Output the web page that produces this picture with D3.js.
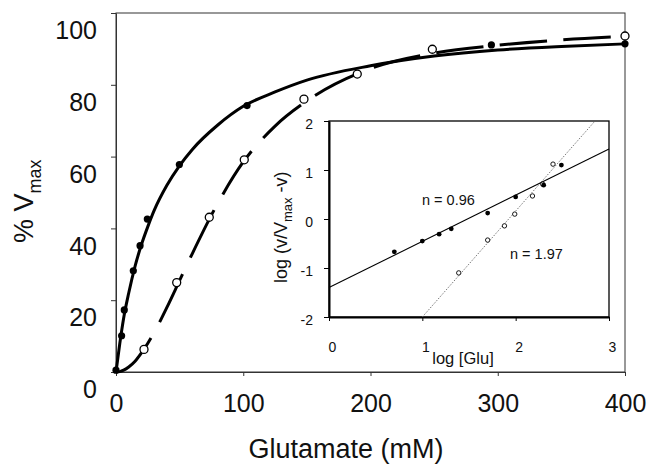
<!DOCTYPE html>
<html>
<head>
<meta charset="utf-8">
<script src="https://cdn.jsdelivr.net/npm/d3@7"></script>
<style>
  body { margin: 0; background: #fff; }
  text { font-family: "Liberation Sans", Arial, sans-serif; fill: #111; }
</style>
</head>
<body>
<div id="my_dataviz"></div>
<script>
// ---- data ----
// fitted curves (sampled from the plotted lines)
var fitConc = [0, 3, 6, 10, 15, 20, 25, 30, 40, 50, 60, 80, 100, 125, 150, 200, 250, 300, 350, 400];
var fitHyperbolic = [0, 8, 15, 22, 29.5, 35.5, 40.5, 45, 52, 57.5, 62, 68.8, 74, 78, 81.3, 85.3, 88, 89.7, 90.7, 91.4];
var fitSigmoid = [0, 0.1, 0.5, 1.4, 3, 5.3, 8, 11, 18, 25.5, 33, 47, 58.5, 68.5, 75.5, 84.5, 88.8, 91, 92.5, 93.5];

// measured points
var filledConc = [0, 4.4, 6.5, 13.6, 18.9, 24.6, 49.8, 103, 295, 400];
var filledRate = [0.5, 10.1, 17.3, 28.2, 35.2, 42.6, 57.8, 74.2, 91.1, 91.4];
var openConc = [22, 47.7, 73.3, 100.8, 147.7, 189.6, 248.6, 400];
var openRate = [6.3, 24.9, 43.1, 59.1, 76, 83, 89.9, 93.6];

// inset (Hill plot)
var logGluFilled = [0.70, 1.0, 1.18, 1.31, 1.70, 2.0, 2.30, 2.49];
var logRatioFilled = [-0.67, -0.45, -0.31, -0.2, 0.12, 0.45, 0.69, 1.10];
var logGluOpen = [1.39, 1.70, 1.88, 1.99, 2.18, 2.29, 2.40];
var logRatioOpen = [-1.10, -0.43, -0.14, 0.10, 0.47, 0.71, 1.12];
var lineSolidX = [0, 3], lineSolidY = [-1.4, 1.43];
var lineDotX = [1, 2.85], lineDotY = [-2, 2];

// ticks
var mainXTicks = [0, 100, 200, 300, 400];
var mainYTicks = [0, 20, 40, 60, 80, 100];
var insetXTicks = [0, 1, 2, 3];
var insetYTicks = [-2, -1, 0, 1, 2];

var zip = function(a, b) { return a.map(function(v, i) { return [v, b[i]]; }); };
var plain = function(d) { return String(d); };

var svg = d3.select("#my_dataviz")
  .append("svg")
    .attr("width", 649)
    .attr("height", 465);

// ---- main chart ----
var x = d3.scaleLinear().domain([0, 400]).range([116, 625]);
var y = d3.scaleLinear().domain([0, 100]).range([372, 13]);

// frame
svg.append("rect")
  .attr("x", x(0)).attr("y", y(100))
  .attr("width", x(400) - x(0)).attr("height", y(0) - y(100))
  .attr("fill", "none").attr("stroke", "#333").attr("stroke-width", 1);

var xAxis = svg.append("g")
  .attr("transform", "translate(0," + y(0) + ")")
  .call(d3.axisBottom(x).tickValues(mainXTicks).tickFormat(plain).tickSize(4).tickPadding(18).tickSizeOuter(0));
xAxis.selectAll("text").style("font-size", "25px");

var yAxis = svg.append("g")
  .attr("transform", "translate(" + x(0) + ",0)")
  .call(d3.axisLeft(y).tickValues(mainYTicks).tickFormat(plain).tickSize(5).tickPadding(14).tickSizeOuter(0));
yAxis.selectAll("text").style("font-size", "25px").attr("y", 17).attr("dy", "0.35em");

svg.selectAll(".domain, .tick line").attr("stroke", "#333");

// axis titles
svg.append("text")
  .attr("x", 346).attr("y", 458)
  .attr("text-anchor", "middle")
  .style("font-size", "27px")
  .text("Glutamate (mM)");

var yTitle = svg.append("text")
  .attr("transform", "translate(33,243) rotate(-90)")
  .style("font-size", "27px");
yTitle.append("tspan").text("% V");
yTitle.append("tspan").attr("dy", 8).style("font-size", "18px").text("max");

// curves
var line = d3.line()
  .x(function(d) { return x(d[0]); })
  .y(function(d) { return y(d[1]); })
  .curve(d3.curveMonotoneX);

var dashed = svg.append("path")
  .datum(zip(fitConc, fitSigmoid))
  .attr("d", line)
  .attr("fill", "none").attr("stroke", "#000").attr("stroke-width", 3);

// the original figure is stretched vertically, so dashes were laid out
// before the stretch: measure them with y squeezed by 1.15
function stretchedDashes(node, dash, gap, k) {
  var L = node.getTotalLength(), s = [0], u = [0];
  var prev = node.getPointAtLength(0);
  for (var t = 1; t <= L; t += 1) {
    var p = node.getPointAtLength(Math.min(t, L));
    var du = Math.sqrt(Math.pow(p.x - prev.x, 2) + Math.pow((p.y - prev.y) / k, 2));
    s.push(Math.min(t, L)); u.push(u[u.length - 1] + du);
    prev = p;
  }
  var toS = d3.scaleLinear().domain(u).range(s).clamp(true);
  var U = u[u.length - 1], parts = [], b = 0, last = 0;
  while (b < U) {
    var e1 = toS(Math.min(b + dash, U)), e2 = toS(Math.min(b + dash + gap, U));
    parts.push((e1 - last).toFixed(2), (e2 - e1).toFixed(2));
    last = e2; b += dash + gap;
  }
  return parts.join(",");
}
dashed.attr("stroke-dasharray", stretchedDashes(dashed.node(), 47.5, 16.3, 1.15));

svg.append("path")
  .datum(zip(fitConc, fitHyperbolic))
  .attr("d", line)
  .attr("fill", "none").attr("stroke", "#000").attr("stroke-width", 3);

// points
svg.append("g").selectAll("circle")
  .data(zip(openConc, openRate))
  .enter().append("circle")
    .attr("cx", function(d) { return x(d[0]); })
    .attr("cy", function(d) { return y(d[1]); })
    .attr("r", 4)
    .attr("fill", "#fff").attr("stroke", "#000").attr("stroke-width", 1.3);

svg.append("g").selectAll("circle")
  .data(zip(filledConc, filledRate))
  .enter().append("circle")
    .attr("cx", function(d) { return x(d[0]); })
    .attr("cy", function(d) { return y(d[1]); })
    .attr("r", 3.6)
    .attr("fill", "#000");

// ---- inset ----
var ix = d3.scaleLinear().domain([0, 3]).range([329, 609]);
var iy = d3.scaleLinear().domain([-2, 2]).range([317, 121]);

svg.append("rect")
  .attr("x", ix(0)).attr("y", iy(2))
  .attr("width", ix(3) - ix(0)).attr("height", iy(-2) - iy(2))
  .attr("fill", "#fff").attr("stroke", "#000").attr("stroke-width", 1.3);

var ixAxis = svg.append("g")
  .attr("transform", "translate(0," + iy(-2) + ")")
  .call(d3.axisBottom(ix).tickValues(insetXTicks).tickFormat(plain).tickSize(4).tickPadding(21).tickSizeOuter(0));
ixAxis.selectAll("text").style("font-size", "14px").attr("x", 3);

var iyAxis = svg.append("g")
  .attr("transform", "translate(" + ix(0) + ",0)")
  .call(d3.axisLeft(iy).tickValues(insetYTicks).tickFormat(plain).tickSize(5).tickPadding(11).tickSizeOuter(0));
iyAxis.selectAll("text").style("font-size", "14px").attr("y", 3);

ixAxis.select(".domain").attr("stroke", "#000").attr("stroke-width", 2);
iyAxis.select(".domain").attr("stroke", "#000").attr("stroke-width", 2);
ixAxis.selectAll(".tick line").attr("stroke", "#000");
iyAxis.selectAll(".tick line").attr("stroke", "#000");

svg.append("text")
  .attr("x", 463).attr("y", 364)
  .attr("text-anchor", "middle")
  .style("font-size", "16.5px")
  .text("log [Glu]");

var iyTitle = svg.append("text")
  .attr("transform", "translate(287,283) rotate(-90)")
  .style("font-size", "18px");
iyTitle.append("tspan").text("log (v/V");
iyTitle.append("tspan").attr("dy", 5).style("font-size", "13px").text("max");
iyTitle.append("tspan").attr("dy", -5).text(" -v)");

var iline = d3.line()
  .x(function(d) { return ix(d[0]); })
  .y(function(d) { return iy(d[1]); });

svg.append("path")
  .datum(zip(lineDotX, lineDotY))
  .attr("d", iline)
  .attr("fill", "none").attr("stroke", "#666").attr("stroke-width", 0.9)
  .attr("stroke-dasharray", "1.5,1.5");

svg.append("path")
  .datum(zip(lineSolidX, lineSolidY))
  .attr("d", iline)
  .attr("fill", "none").attr("stroke", "#000").attr("stroke-width", 1.1);

svg.append("g").selectAll("circle")
  .data(zip(logGluOpen, logRatioOpen))
  .enter().append("circle")
    .attr("cx", function(d) { return ix(d[0]); })
    .attr("cy", function(d) { return iy(d[1]); })
    .attr("r", 2.2)
    .attr("fill", "#fff").attr("stroke", "#000").attr("stroke-width", 0.9);

svg.append("g").selectAll("circle")
  .data(zip(logGluFilled, logRatioFilled))
  .enter().append("circle")
    .attr("cx", function(d) { return ix(d[0]); })
    .attr("cy", function(d) { return iy(d[1]); })
    .attr("r", 2.4)
    .attr("fill", "#000");

svg.append("text")
  .attr("x", 422).attr("y", 205)
  .style("font-size", "14.5px")
  .text("n = 0.96");

svg.append("text")
  .attr("x", 510).attr("y", 259)
  .style("font-size", "14.5px")
  .text("n = 1.97");
</script>
</body>
</html>
